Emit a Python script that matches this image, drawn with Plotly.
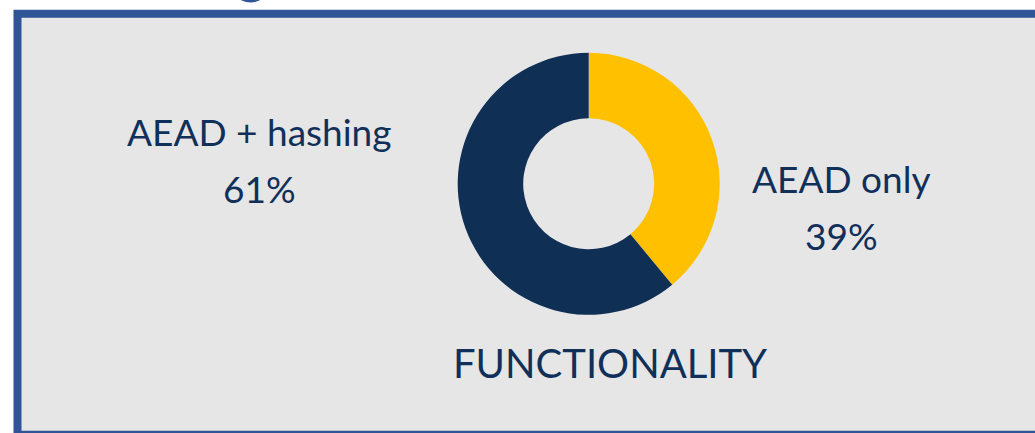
import plotly.graph_objects as go

# Data
categories = ["AEAD only", "AEAD + hashing"]
values = [39, 61]
colors = ["#FFC000", "#0F2F55"]
title_text = "FUNCTIONALITY"

W, H = 1035, 433
NAVY = "#10305A"
BORDER = "#2F5597"
BG = "#E6E6E6"
FONT = "Lato"

def px(x):
    return x / W

def py(y):
    return 1 - y / H

cx, cy, r = 588.7, 183.8, 131

fig = go.Figure()
fig.add_trace(go.Pie(
    labels=categories,
    values=values,
    hole=0.5,
    sort=False,
    direction="clockwise",
    rotation=0,
    marker=dict(colors=colors, line=dict(width=0)),
    textinfo="none",
    hoverinfo="label+percent",
    showlegend=False,
    domain=dict(x=[px(cx - r), px(cx + r)], y=[py(cy + r), py(cy - r)]),
))

annotations = []
def label(text, x, y, size):
    annotations.append(dict(
        text=text, x=px(x), y=py(y), xref="paper", yref="paper",
        xanchor="center", yanchor="middle", showarrow=False,
        font=dict(family=FONT, size=size, color=NAVY),
    ))

total = sum(values)
pct = [f"{round(v / total * 100)}%" for v in values]
label(categories[1], 259, 131, 37)
label(pct[1], 259, 188, 37)
label(categories[0], 841.5, 178, 37)
label(pct[0], 841.5, 235, 37)
label(title_text, 610, 363, 40)

shapes = [
    dict(type="rect", xref="paper", yref="paper",
         x0=px(17.5), x1=px(1045), y0=py(434.7), y1=py(13.7),
         line=dict(color=BORDER, width=8), fillcolor=BG, layer="below"),
    dict(type="circle", xref="paper", yref="paper",
         x0=px(239), x1=px(262), y0=py(2.5), y1=py(-9),
         line=dict(width=0), fillcolor=BORDER, layer="below"),
]

fig.update_layout(
    width=W, height=H,
    margin=dict(l=0, r=0, t=0, b=0),
    paper_bgcolor="white",
    plot_bgcolor="white",
    annotations=annotations,
    shapes=shapes,
)

fig.write_html("out.html")
